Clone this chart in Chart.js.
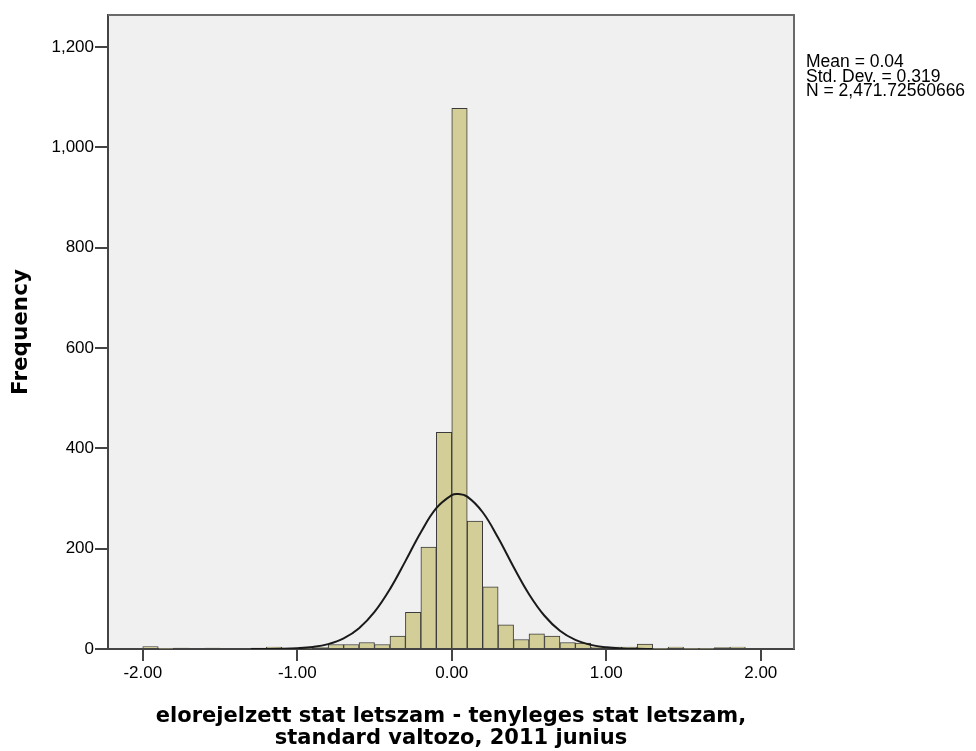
<!DOCTYPE html>
<html>
<head>
<meta charset="utf-8">
<script src="https://cdn.jsdelivr.net/npm/chart.js@4"></script>
<style>
  body { margin: 0; background: #fff; }
</style>
</head>
<body>
<canvas id="hist" width="976" height="751"></canvas>
<script>
// histogram bins (lower edge of each 0.1 wide bin) and frequencies
const binStarts = [-2.0, -1.9, -1.8, -1.7, -1.6, -1.5, -1.4, -1.3, -1.2, -1.1,
    -1.0, -0.9, -0.8, -0.7, -0.6, -0.5, -0.4, -0.3, -0.2, -0.1,
    0.0, 0.1, 0.2, 0.3, 0.4, 0.5, 0.6, 0.7, 0.8, 0.9,
    1.0, 1.1, 1.2, 1.3, 1.4, 1.5, 1.6, 1.7, 1.8, 1.9];
const frequencies = [5, 1, 2, 0, 2, 0, 0, 2, 4, 2,
    1, 3, 9, 9, 13, 9, 26, 73, 203, 432,
    1078, 255, 124, 48, 19, 30, 26, 13, 12, 4,
    4, 4, 10, 1, 4, 1, 1, 3, 4, 0];

// normal curve
const curveX = [-1.3, -1.2, -1.1, -1.0, -0.9, -0.8, -0.7, -0.6, -0.5, -0.4, -0.3, -0.2, -0.1, 0.0, 0.04,
    0.1, 0.2, 0.3, 0.4, 0.5, 0.6, 0.7, 0.8, 0.9, 1.0, 1.1, 1.2, 1.3];
const curveY = [0.05, 0.16, 0.5, 1.5, 4.0, 9.7, 21.0, 41.3, 73.8, 119.4, 175.2, 232.9, 280.7, 306.7, 309.1,
    303.7, 272.6, 221.7, 163.5, 109.3, 66.3, 36.4, 18.1, 8.2, 3.3, 1.2, 0.4, 0.13];

const xTicks = [-2, -1, 0, 1, 2];
const yTicks = [0, 200, 400, 600, 800, 1000, 1200];
const statLines = ['Mean = 0.04', 'Std. Dev. = 0.319', 'N = 2,471.72560666'];

const xTitle = ['elorejelzett stat letszam - tenyleges stat letszam,', 'standard valtozo, 2011 junius'];
const yTitle = 'Frequency';

var barData = [];
for (let i = 0; i < binStarts.length; i++) {
    barData.push({ x: binStarts[i] + 0.05, y: frequencies[i] });
}
var lineData = [];
for (let i = 0; i < curveX.length; i++) {
    lineData.push({ x: curveX[i], y: curveY[i] });
}

const framePlugin = {
    id: 'frame',
    beforeDraw(chart) {
        const a = chart.chartArea, ctx = chart.ctx;
        ctx.save();
        ctx.fillStyle = '#f0f0f0';
        ctx.fillRect(a.left, a.top, a.right - a.left, a.bottom - a.top);
        ctx.restore();
    },
    afterDraw(chart) {
        const a = chart.chartArea, ctx = chart.ctx;
        ctx.save();
        ctx.strokeStyle = '#6a6a6a';
        ctx.lineWidth = 2;
        ctx.beginPath();
        ctx.moveTo(a.left, a.top);
        ctx.lineTo(a.right, a.top);
        ctx.lineTo(a.right, a.bottom);
        ctx.stroke();
        ctx.fillStyle = '#000';
        ctx.font = '17.5px "Liberation Sans", Arial, sans-serif';
        ctx.textBaseline = 'alphabetic';
        statLines.forEach((t, i) => ctx.fillText(t, 806, 67 + i * 14.5));
        ctx.restore();
    }
};

var ctx = document.getElementById('hist').getContext('2d');
var histChart = new Chart(ctx, {
    data: {
        datasets: [{
            type: 'line',
            data: lineData,
            borderColor: '#1a1a1a',
            borderWidth: 2,
            pointRadius: 0,
            tension: 0.4,
            order: 0
        }, {
            type: 'bar',
            data: barData,
            backgroundColor: '#d3ce97',
            borderColor: '#3a3a3a',
            borderWidth: 1,
            barPercentage: 1,
            categoryPercentage: 1,
            order: 1
        }]
    },
    plugins: [framePlugin],
    options: {
        responsive: false,
        animation: false,
        layout: { padding: { left: 0, top: 15, right: 182, bottom: 0 } },
        plugins: {
            legend: { display: false },
            tooltip: { enabled: false }
        },
        scales: {
            x: {
                type: 'linear',
                offset: false,
                min: -2.225,
                max: 2.215,
                afterBuildTicks: s => { s.ticks = xTicks.map(v => ({ value: v })); },
                afterFit: s => { s.height = 102; },
                grid: { offset: false, drawOnChartArea: false, drawTicks: true, tickLength: 12, color: '#444', lineWidth: 2 },
                border: { display: true, color: '#444', width: 2 },
                ticks: {
                    padding: 2,
                    color: '#000',
                    maxRotation: 0,
                    font: { family: 'Liberation Sans', size: 17 },
                    callback: v => v.toFixed(2)
                },
                title: {
                    display: true,
                    text: xTitle,
                    color: '#000',
                    font: { family: 'DejaVu Sans', weight: 'bold', size: 21, lineHeight: 1.05 },
                    padding: { top: 0, bottom: 1 }
                }
            },
            y: {
                min: 0,
                max: 1264,
                afterBuildTicks: s => { s.ticks = yTicks.map(v => ({ value: v })); },
                afterFit: s => { s.width = 108; },
                grid: { drawOnChartArea: false, drawTicks: true, tickLength: 13, color: '#444', lineWidth: 2 },
                border: { display: true, color: '#444', width: 2 },
                ticks: {
                    padding: 1,
                    color: '#000',
                    font: { family: 'Liberation Sans', size: 17 },
                    callback: v => v.toLocaleString('en-US')
                },
                title: {
                    display: true,
                    text: yTitle,
                    color: '#000',
                    font: { family: 'DejaVu Sans', weight: 'bold', size: 21.5 },
                    padding: { top: 9 }
                }
            }
        }
    }
});
</script>
</body>
</html>
